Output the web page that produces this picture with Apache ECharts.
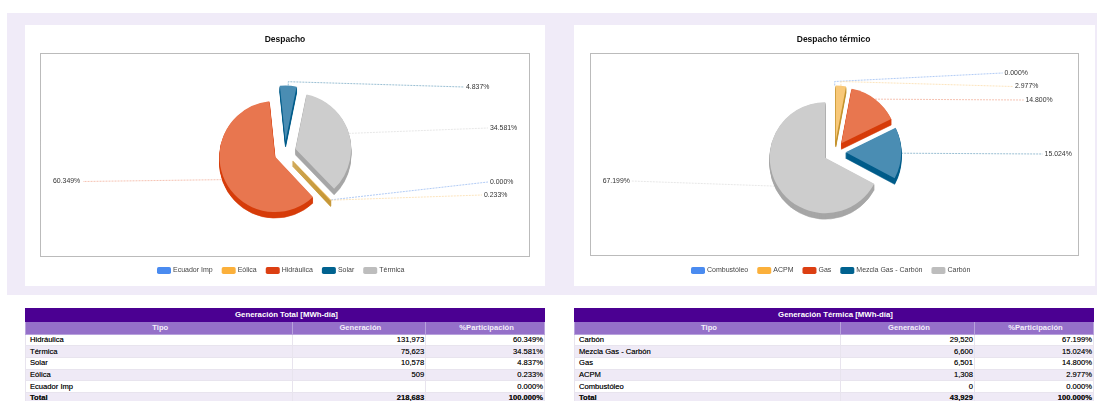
<!DOCTYPE html>
<html>
<head>
<meta charset="utf-8">
<script src="https://cdn.jsdelivr.net/npm/echarts@6/dist/echarts.min.js"></script>
<style>
  html, body { margin: 0; padding: 0; background: #fff; width: 1097px; height: 401px; overflow: hidden; font-family: "Liberation Sans", Arial, sans-serif; }
  body { filter: blur(.35px); }
  #fondo { position: absolute; left: 7px; top: 13px; width: 1090px; height: 282px; background: #f0ebf8; }
  .card { position: absolute; top: 25px; height: 261px; background: #fff; }
  #despacho { left: 25px; width: 520px; }
  #termico { left: 574px; width: 521px; }
  table { position: absolute; top: 308px; border-collapse: collapse; table-layout: fixed; font-size: 7.6px; color: #111; text-shadow: 0 0 .15px #555; }
  #tablaTotal { left: 25px; width: 520px; }
  #tablaTermica { left: 574px; width: 520px; }
  td, th { padding: 0 1px 0 4px; height: 11.7px; line-height: 10px; border: 1px solid #e8e4ee; white-space: nowrap; box-sizing: border-box; }
  th { font-weight: bold; color: #f4effa; text-align: center; border-color: #b8a2dc; text-shadow: none; }
  tr.titulo th { background: #4b0092; height: 13px; border-color: #4b0092; color: #fff; font-size: 7.8px; }
  tr.cols th { background: #9570c9; height: 12.6px; }
  tr.par td { background: #efeaf6; }
  tr.total td { background: #efeaf6; font-weight: bold; }
  td.num { text-align: right; }
</style>
</head>
<body>
<div id="fondo"></div>
<div id="despacho" class="card"></div>
<div id="termico" class="card"></div>
<table id="tablaTotal"></table>
<table id="tablaTermica"></table>
<script>
// datos
var tiposTotal = ['Ecuador Imp', 'Eólica', 'Hidráulica', 'Solar', 'Térmica'];
var genTotal = [0, 509, 131973, 10578, 75623];
var pctTotal = ['0.000%', '0.233%', '60.349%', '4.837%', '34.581%'];
var tiposTermica = ['Combustóleo', 'ACPM', 'Gas', 'Mezcla Gas - Carbón', 'Carbón'];
var genTermica = [0, 1308, 6501, 6600, 29520];
var pctTermica = ['0.000%', '2.977%', '14.800%', '15.024%', '67.199%'];

// filas de las tablas, en el orden de la imagen
var filasTotal = [
  ['Hidráulica', '131,973', '60.349%'],
  ['Térmica', '75,623', '34.581%'],
  ['Solar', '10,578', '4.837%'],
  ['Eólica', '509', '0.233%'],
  ['Ecuador Imp', '', '0.000%'],
  ['Total', '218,683', '100.000%']
];
var filasTermica = [
  ['Carbón', '29,520', '67.199%'],
  ['Mezcla Gas - Carbón', '6,600', '15.024%'],
  ['Gas', '6,501', '14.800%'],
  ['ACPM', '1,308', '2.977%'],
  ['Combustóleo', '0', '0.000%'],
  ['Total', '43,929', '100.000%']
];

// colores: leyenda, cara superior, lateral y linea guia
var colLeyenda = ['#4a8bf0', '#fbb03b', '#dc3f12', '#00628f', '#bdbdbd'];
var colCara = ['#6fa3f2', '#f8c878', '#e8764f', '#4a8db3', '#cdcdcd'];
var colLado = ['#2f6fd0', '#c4932f', '#d63c0a', '#005c8a', '#a6a6a6'];
var colGuia = ['#8fb4f0', '#fbd9a0', '#f0a890', '#6fa3c0', '#dcdcdc'];
var separacion = 11;

function dibujarPie(id, conf) {
  var chart = echarts.init(document.getElementById(id));
  var series = [];
  // el volumen se hace apilando copias oscuras hacia abajo, la ultima es la cara
  for (var d = 6; d >= 0; d--) {
    series.push({
      type: 'pie', silent: true, radius: conf.r, center: [conf.cx, conf.cy + d],
      startAngle: conf.inicio, selectedMode: 'multiple', selectedOffset: separacion,
      label: { show: false }, labelLine: { show: false }, animation: false,
      data: conf.nombres.map(function (n, i) {
        return {
          name: n, value: conf.valores[i], selected: true,
          itemStyle: d ? { color: colLado[i], borderColor: colLado[i], borderWidth: conf.valores[i] ? 0.6 : 0 } : { color: colCara[i] }
        };
      })
    });
  }
  // serie transparente solo para etiquetas: las seleccionadas no aceptan x,y
  series.push({
    type: 'pie', silent: true, radius: conf.r, center: [conf.cx, conf.cy],
    startAngle: conf.inicio, animation: false, minShowLabelAngle: 0, avoidLabelOverlap: false,
    itemStyle: { color: 'transparent' },
    label: {
      show: true, color: '#333', fontSize: 6.9, fontFamily: 'Liberation Sans',
      formatter: function (p) { return conf.pct[p.dataIndex]; }
    },
    labelLine: { show: true, length: 8, length2: 8, lineStyle: { width: 0.7, type: [2, 1] } },
    labelLayout: function (p) {
      var g = conf.guias[p.dataIndex];
      var ini = p.labelLinePoints[0];
      var dx = ini[0] - conf.cx, dy = ini[1] - conf.cy;
      var k = 1 + separacion / Math.sqrt(dx * dx + dy * dy);
      var borde = [conf.cx + dx * k, conf.cy + dy * k];
      var pts = [borde];
      if (g.codo) pts.push([borde[0], g.codo]);
      pts.push([g.fin, g.y]);
      return { x: g.x, y: g.y, align: 'left', verticalAlign: 'middle', hideOverlap: false, labelLinePoints: pts };
    },
    data: conf.nombres.map(function (n, i) {
      return { name: n, value: conf.valores[i], labelLine: { lineStyle: { color: colGuia[i] } } };
    })
  });
  chart.setOption({
    animation: false,
    title: {
      text: conf.titulo, left: conf.tx, top: 10, padding: 0, textAlign: 'center',
      textStyle: { fontSize: 8.5, fontWeight: 'bold', color: '#111', fontFamily: 'Liberation Sans' }
    },
    legend: {
      top: 242, left: conf.leyendaX, selectedMode: false, itemWidth: 14, itemHeight: 7, itemGap: 9, padding: 0, icon: 'roundRect',
      textStyle: { fontSize: 7, color: '#444', fontFamily: 'Liberation Sans', padding: [0, 0, 0, -3] },
      data: conf.nombres.map(function (n, i) {
        return { name: n, itemStyle: { color: colLeyenda[i], borderWidth: 0 } };
      })
    },
    graphic: [{
      type: 'rect', silent: true, z: -1,
      shape: conf.caja,
      style: { fill: '#fff', stroke: '#777', lineWidth: 1, lineDash: [1, 1] }
    }],
    series: series
  });
}

dibujarPie('despacho', {
  titulo: 'Despacho', tx: 260, leyendaX: 132, nombres: tiposTotal, valores: genTotal, pct: pctTotal,
  cx: 260, cy: 127, r: 55.5, inicio: -46,
  caja: { x: 15.5, y: 28.5, width: 489, height: 203 },
  guias: [
    { x: 465, y: 157, fin: 463 },
    { x: 459, y: 170, fin: 457 },
    { x: 28, y: 156.5, fin: 58 },
    { x: 441, y: 62, fin: 439, codo: 56.7 },
    { x: 465, y: 103, fin: 463 }
  ]
});
dibujarPie('termico', {
  titulo: 'Despacho térmico', tx: 259.6, leyendaX: 117, nombres: tiposTermica, valores: genTermica, pct: pctTermica,
  cx: 260.7, cy: 127, r: 55.5, inicio: 90,
  caja: { x: 16.5, y: 28.5, width: 488, height: 202 },
  guias: [
    { x: 430.5, y: 48, fin: 428.7, codo: 56.5 },
    { x: 441, y: 61.5, fin: 439, codo: 56.5 },
    { x: 451.4, y: 75, fin: 449.7 },
    { x: 470.6, y: 129, fin: 468.5 },
    { x: 28.7, y: 156, fin: 57 }
  ]
});

function llenarTabla(id, titulo, filas, anchos) {
  var html = '<colgroup><col style="width:' + anchos[0] + 'px"><col style="width:' + anchos[1] + 'px"><col></colgroup>';
  html += '<tr class="titulo"><th colspan="3">' + titulo + '</th></tr>';
  html += '<tr class="cols"><th>Tipo</th><th>Generación</th><th>%Participación</th></tr>';
  filas.forEach(function (f, i) {
    var cls = f[0] === 'Total' ? 'total' : (i % 2 ? 'par' : '');
    html += '<tr class="' + cls + '"><td>' + f[0] + '</td><td class="num">' + f[1] + '</td><td class="num">' + f[2] + '</td></tr>';
  });
  document.getElementById(id).innerHTML = html;
}
llenarTabla('tablaTotal', 'Generación Total [MWh-día]', filasTotal, [266.5, 133.7]);
llenarTabla('tablaTermica', 'Generación Térmica [MWh-día]', filasTermica, [266, 134]);
</script>
</body>
</html>
